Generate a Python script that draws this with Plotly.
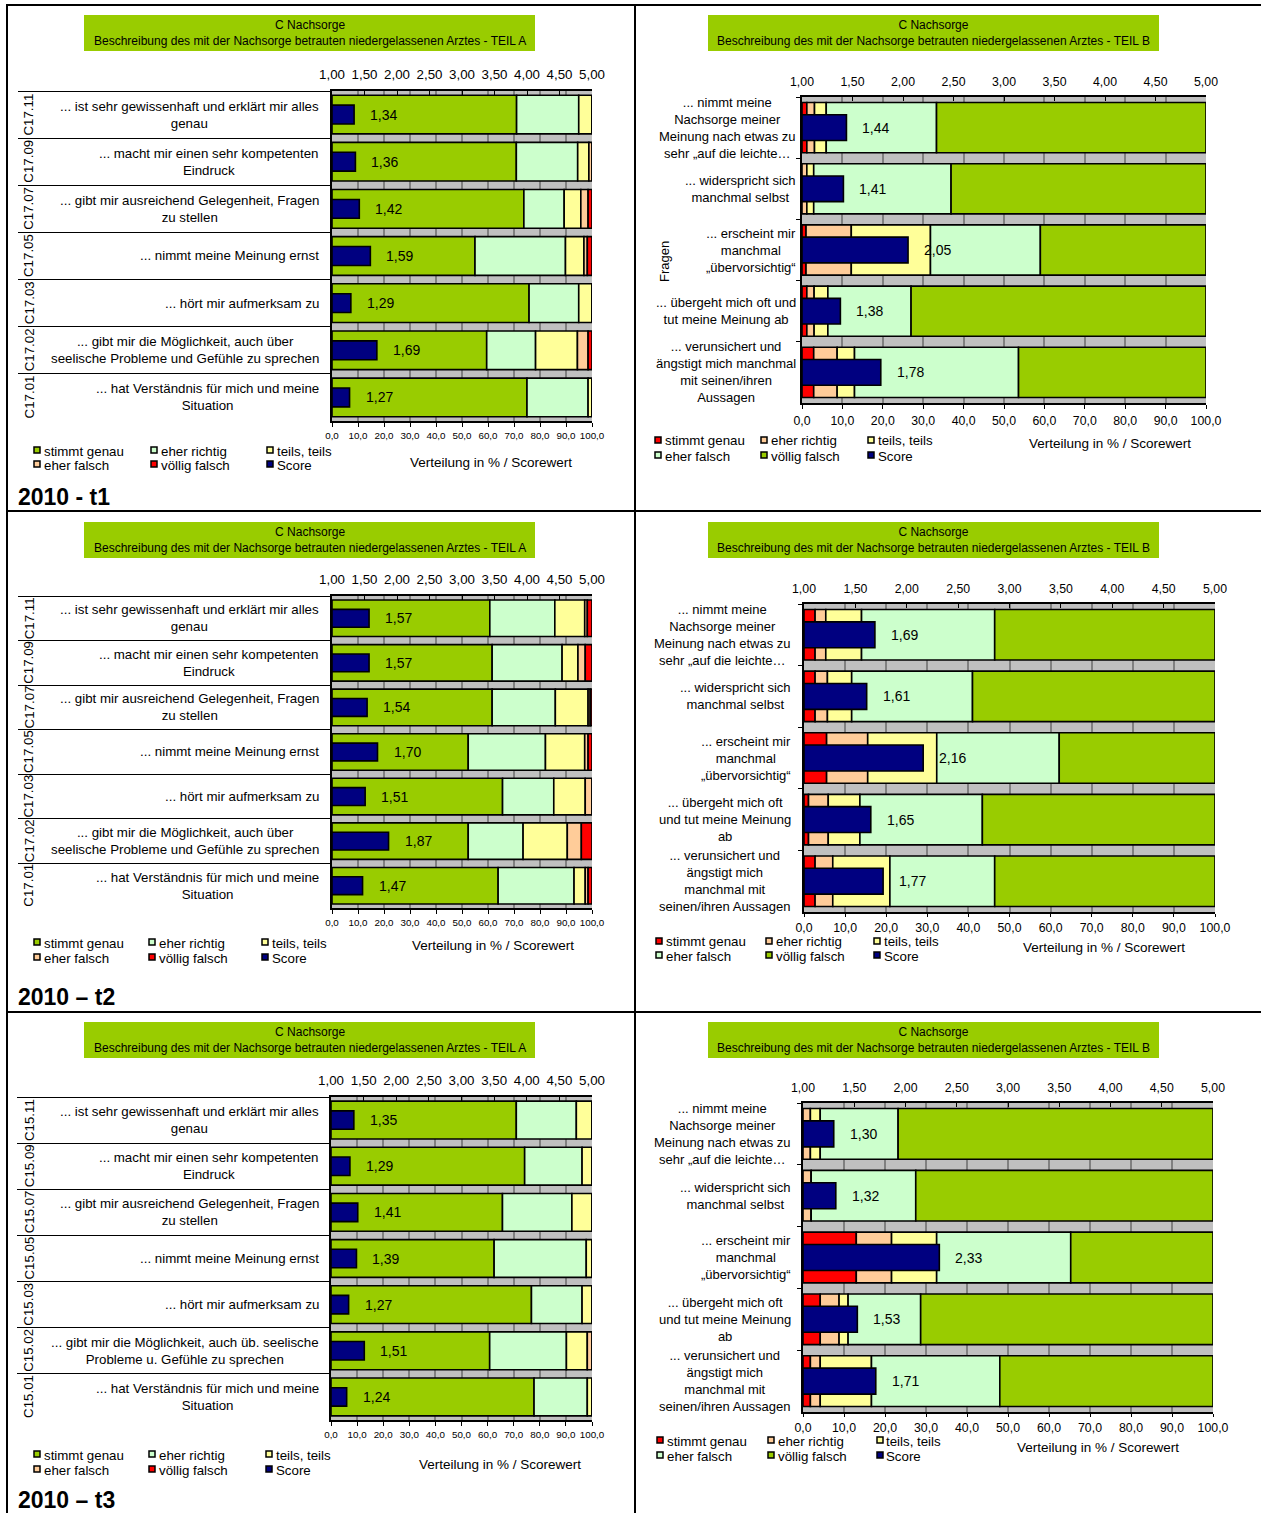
import numpy as np
import plotly.graph_objects as go

W, H = 1261, 1513
FONT = "Arial, Liberation Sans, sans-serif"

# ---------------------------------------------------------------- data
LEVELS = ["stimmt genau", "eher richtig", "teils, teils", "eher falsch", "völlig falsch"]

CODES_T1 = ["C17.11", "C17.09", "C17.07", "C17.05", "C17.03", "C17.02", "C17.01"]
CODES_T2 = ["C17.11", "C17.09", "C17.07", "C17.05", "C17.03", "C17.02", "C17.01"]
CODES_T3 = ["C15.11", "C15.09", "C15.07", "C15.05", "C15.03", "C15.02", "C15.01"]

ITEMS_A = [
    "... ist sehr gewissenhaft und erklärt mir alles<br>genau",
    "... macht mir einen sehr kompetenten<br>Eindruck",
    "... gibt mir ausreichend Gelegenheit, Fragen<br>zu stellen",
    "... nimmt meine Meinung ernst",
    "... hört mir aufmerksam zu",
    "... gibt mir die Möglichkeit, auch über<br>seelische Probleme und Gefühle zu sprechen",
    "... hat Verständnis für mich und meine<br>Situation",
]
ITEMS_A_T3 = [
    "... ist sehr gewissenhaft und erklärt mir alles<br>genau",
    "... macht mir einen sehr kompetenten<br>Eindruck",
    "... gibt mir ausreichend Gelegenheit, Fragen<br>zu stellen",
    "... nimmt meine Meinung ernst",
    "... hört mir aufmerksam zu",
    "... gibt mir die Möglichkeit, auch üb. seelische<br>Probleme u. Gefühle zu sprechen",
    "... hat Verständnis für mich und meine<br>Situation",
]
ITEMS_B_T1 = [
    "... nimmt meine<br>Nachsorge meiner<br>Meinung nach etwas zu<br>sehr „auf die leichte…",
    "... widerspricht sich<br>manchmal selbst",
    "... erscheint mir<br>manchmal<br>„übervorsichtig“",
    "... übergeht mich oft und<br>tut meine Meinung ab",
    "... verunsichert und<br>ängstigt mich manchmal<br>mit seinen/ihren<br>Aussagen",
]
ITEMS_B_T23 = [
    "... nimmt meine<br>Nachsorge meiner<br>Meinung nach etwas zu<br>sehr „auf die leichte…",
    "... widerspricht sich<br>manchmal selbst",
    "... erscheint mir<br>manchmal<br>„übervorsichtig“",
    "... übergeht mich oft<br>und tut meine Meinung<br>ab",
    "... verunsichert und<br>ängstigt mich<br>manchmal mit<br>seinen/ihren Aussagen",
]

# distribution in % per answer level (rows follow LEVELS), one value per item
T1_A_PCT = [
    [71.0, 70.9, 73.8, 55.0, 75.8, 59.5, 75.0],
    [23.9, 23.6, 15.5, 34.8, 19.1, 18.8, 23.5],
    [5.1, 4.3, 6.4, 7.1, 5.1, 16.1, 1.5],
    [0.0, 1.2, 2.8, 1.3, 0.0, 4.1, 0.0],
    [0.0, 0.0, 1.5, 1.8, 0.0, 1.5, 0.0],
]
T1_A_SCORE = [1.34, 1.36, 1.42, 1.59, 1.29, 1.69, 1.27]

T2_A_PCT = [
    [60.7, 61.6, 61.6, 52.4, 65.6, 52.4, 63.9],
    [25.0, 26.9, 24.3, 29.7, 19.7, 21.1, 29.2],
    [11.5, 6.1, 12.6, 15.1, 12.1, 17.0, 4.3],
    [1.0, 2.8, 0.8, 1.3, 2.6, 5.4, 1.1],
    [1.8, 2.6, 0.7, 1.5, 0.0, 4.1, 1.5],
]
T2_A_SCORE = [1.57, 1.57, 1.54, 1.70, 1.51, 1.87, 1.47]

T3_A_PCT = [
    [71.0, 74.2, 65.7, 62.5, 76.8, 60.8, 77.8],
    [23.0, 22.0, 26.6, 35.3, 19.4, 29.4, 20.4],
    [6.0, 3.8, 7.7, 2.2, 3.8, 8.0, 1.8],
    [0.0, 0.0, 0.0, 0.0, 0.0, 1.8, 0.0],
    [0.0, 0.0, 0.0, 0.0, 0.0, 0.0, 0.0],
]
T3_A_SCORE = [1.35, 1.29, 1.41, 1.39, 1.27, 1.51, 1.24]

T1_B_PCT = [
    [1.2, 0.0, 1.0, 1.2, 2.9],
    [1.9, 1.2, 11.2, 1.8, 5.8],
    [2.9, 1.7, 19.6, 3.4, 4.3],
    [27.3, 34.0, 27.2, 20.6, 40.6],
    [66.7, 63.1, 41.0, 73.0, 46.4],
]
T1_B_SCORE = [1.44, 1.41, 2.05, 1.38, 1.78]

T2_B_PCT = [
    [2.7, 2.7, 5.5, 1.1, 2.7],
    [2.6, 3.0, 10.0, 4.8, 4.3],
    [8.7, 5.9, 16.8, 7.7, 13.9],
    [32.4, 29.4, 29.8, 29.8, 25.5],
    [53.6, 59.0, 37.9, 56.6, 53.6],
]
T2_B_SCORE = [1.69, 1.61, 2.16, 1.65, 1.77]

T3_B_PCT = [
    [0.0, 0.0, 13.0, 4.2, 1.8],
    [1.8, 2.0, 8.6, 4.6, 2.4],
    [2.4, 0.0, 11.0, 2.2, 12.5],
    [19.0, 25.5, 32.7, 17.7, 31.3],
    [76.8, 72.5, 34.7, 71.3, 52.0],
]
T3_B_SCORE = [1.30, 1.32, 2.33, 1.53, 1.71]

# ---------------------------------------------------------------- styling
COLORS_A = ["#99CC00", "#CCFFCC", "#FFFF99", "#FFCC99", "#FF0000"]
COLORS_B = ["#FF0000", "#FFCC99", "#FFFF99", "#CCFFCC", "#99CC00"]
SCORE_COLOR = "#000080"
TITLE_BG = "#99CC00"


def fx(p):
    return p / W


def fy(p):
    return 1 - p / H


def fmt_de(v, nd=2):
    return f"{v:.{nd}f}".replace(".", ",")


fig = go.Figure()
layout_axes = {}
shapes = []
annotations = []


def ax_name(kind, i):
    return kind if i == 1 else f"{kind}{i}"


def add_panel(k, cats, pct, scores, colors, g, labels=None, codes=None):
    ib, it = 2 * k - 1, 2 * k
    xb, xt, ya = ax_name("x", ib), ax_name("x", it), ax_name("y", k)
    n = len(cats)

    # stacked distribution bars (bottom axis, 0-100 %)
    base = np.zeros(n)
    for lvl, vals, col in zip(LEVELS, pct, colors):
        v = np.asarray(vals, dtype=float)
        fig.add_trace(go.Bar(
            y=cats, x=v, base=base.copy(), orientation="h", width=g["bw"],
            marker=dict(color=col, line=dict(color="black", width=1.6)),
            xaxis=xb, yaxis=ya, name=lvl, showlegend=False,
        ))
        base = base + v

    # score bars (top axis, 1-5) starting at the scale minimum
    s = np.asarray(scores, dtype=float)
    fig.add_trace(go.Bar(
        y=cats, x=s - 1, base=np.ones(n), orientation="h", width=g["sw"],
        marker=dict(color=SCORE_COLOR, line=dict(color="black", width=1.6)),
        xaxis=xt, yaxis=ya, name="Score", showlegend=False,
    ))
    for c, v in zip(cats, s):
        annotations.append(dict(
            x=v, y=c, xref=xt, yref=ya, text=fmt_de(v), showarrow=False,
            xanchor="left", yanchor="middle", xshift=14,
            font=dict(family=FONT, size=14, color="black"),
        ))

    axis_line = dict(showline=True, linecolor="black", linewidth=1.5,
                     zeroline=False, automargin=False)
    layout_axes[ax_name("xaxis", ib)] = dict(
        domain=[fx(g["xl"]), fx(g["xr"])], anchor=ya, range=[0, 100],
        tick0=0, dtick=10, tickformat=".1f", ticks="outside", ticklen=g["blen"],
        tickcolor="black", tickwidth=1, showgrid=True, gridcolor="#808080",
        gridwidth=1.5, tickfont=dict(family=FONT, size=g["fb"], color="black"),
        ticklabelstandoff=g["sb"], **axis_line,
    )
    layout_axes[ax_name("xaxis", it)] = dict(
        overlaying=xb, anchor=ya, side="top", range=[1, 5], tick0=1, dtick=0.5,
        tickformat=".2f", ticks="inside", ticklen=4, tickcolor="black",
        showgrid=False, tickfont=dict(family=FONT, size=g["ft"], color="black"),
        ticklabelstandoff=g["st"], **axis_line,
    )
    layout_axes[ax_name("yaxis", k)] = dict(
        domain=[fy(g["yb"]), fy(g["yt"])], anchor=xb, type="category",
        categoryorder="array", categoryarray=cats, range=[n - 0.5, -0.5],
        showticklabels=False, ticks="outside", tickson="boundaries",
        ticklen=g["tl"], tickcolor="black", tickwidth=1.3, showgrid=False,
        **axis_line,
    )

    # question texts
    for c, lab in zip(cats, labels):
        annotations.append(dict(
            x=fx(g["lr"]), y=c, xref="paper", yref=ya, text=lab, showarrow=False,
            xanchor="right", yanchor="middle", align="center",
            font=dict(family=FONT, size=g["fl"], color="black"),
        ))
    if codes is not None:
        for c, code in zip(cats, codes):
            annotations.append(dict(
                x=fx(g["cx"]), y=c, xref="paper", yref=ya, text=code,
                showarrow=False, textangle=-90, xanchor="center", yanchor="middle",
                font=dict(family=FONT, size=13.3, color="black"),
            ))

    # title box
    x0, x1, y0, y1 = g["title"]
    shapes.append(dict(type="rect", xref="paper", yref="paper", x0=fx(x0), x1=fx(x1),
                       y0=fy(y1), y1=fy(y0), fillcolor=TITLE_BG, line=dict(width=0),
                       layer="below"))
    annotations.append(dict(
        x=fx((x0 + x1) / 2), y=fy((y0 + y1) / 2), xref="paper", yref="paper",
        text="C Nachsorge<br>Beschreibung des mit der Nachsorge betrauten "
             "niedergelassenen Arztes - " + g["teil"],
        showarrow=False, xanchor="center", yanchor="middle", align="center",
        font=dict(family=FONT, size=12, color="black"),
    ))

    # legend
    entries = list(zip(LEVELS, colors)) + [("Score", SCORE_COLOR)]
    for idx, (name, col) in enumerate(entries):
        kx = g["lx"][idx % 3]
        ky = g["ly"][idx // 3]
        shapes.append(dict(type="rect", xref="paper", yref="paper",
                           x0=fx(kx), x1=fx(kx + 6), y0=fy(ky + 3), y1=fy(ky - 3),
                           fillcolor=col, line=dict(color="black", width=1.5)))
        annotations.append(dict(
            x=fx(kx + 7.5), y=fy(ky + 1), xref="paper", yref="paper", text=name,
            showarrow=False, xanchor="left", yanchor="middle",
            font=dict(family=FONT, size=13.3, color="black"),
        ))

    ax, ay = g["atitle"]
    annotations.append(dict(
        x=fx(ax), y=fy(ay), xref="paper", yref="paper",
        text="Verteilung in % / Scorewert", showarrow=False,
        xanchor="center", yanchor="middle",
        font=dict(family=FONT, size=13.5, color="black"),
    ))


GEO_A = dict(bw=0.82, sw=0.40, fb=9.8, sb=0, blen=4, ft=13.3, st=5, lr=321, cx=29,
             tl=312, fl=13.3, teil="TEIL A")
GEO_B = dict(bw=0.82, sw=0.42, fb=12.3, sb=1, blen=4, ft=12.3, st=4, tl=4, fl=13,
             teil="TEIL B")

add_panel(1, CODES_T1, T1_A_PCT, T1_A_SCORE, COLORS_A,
          dict(GEO_A, xl=332, xr=592, yt=91, yb=421, title=(84, 535, 15, 51),
               lx=[34, 151, 267], ly=[450, 464], atitle=(491, 462)),
          labels=ITEMS_A, codes=CODES_T1)
add_panel(2, ITEMS_B_T1, T1_B_PCT, T1_B_SCORE, COLORS_B,
          dict(GEO_B, xl=802, xr=1206, yt=97, yb=403, lr=798, title=(708, 1159, 15, 51),
               lx=[655, 761, 868], ly=[440, 455], atitle=(1110, 443)),
          labels=ITEMS_B_T1)
add_panel(3, CODES_T2, T2_A_PCT, T2_A_SCORE, COLORS_A,
          dict(GEO_A, xl=332, xr=592, yt=596, yb=908, title=(84, 535, 522, 558),
               lx=[34, 149, 262], ly=[942, 957], atitle=(493, 945)),
          labels=ITEMS_A, codes=CODES_T2)
add_panel(4, ITEMS_B_T23, T2_B_PCT, T2_B_SCORE, COLORS_B,
          dict(GEO_B, xl=804, xr=1215, yt=604, yb=912, lr=793, title=(708, 1159, 522, 558),
               lx=[656, 766, 874], ly=[941, 955], atitle=(1104, 947), sb=0, blen=3),
          labels=ITEMS_B_T23)
add_panel(5, CODES_T3, T3_A_PCT, T3_A_SCORE, COLORS_A,
          dict(GEO_A, xl=331, xr=592, yt=1097, yb=1420, title=(84, 535, 1022, 1058),
               lx=[34, 149, 266], ly=[1454, 1469], atitle=(500, 1464)),
          labels=ITEMS_A_T3, codes=CODES_T3)
add_panel(6, ITEMS_B_T23, T3_B_PCT, T3_B_SCORE, COLORS_B,
          dict(GEO_B, xl=803, xr=1213, yt=1103, yb=1412, lr=793, title=(708, 1159, 1022, 1058),
               lx=[657, 768, 877], ly=[1440, 1455], atitle=(1098, 1447), sb=0, blen=3),
          labels=ITEMS_B_T23)

# "Fragen" axis title of the first part-B chart
annotations.append(dict(x=fx(665), y=fy(262), xref="paper", yref="paper", text="Fragen",
                        showarrow=False, textangle=-90, xanchor="center", yanchor="middle",
                        font=dict(family=FONT, size=13, color="black")))

# wave labels
for text, yc in [("2010 - t1", 497), ("2010 – t2", 997), ("2010 – t3", 1500)]:
    annotations.append(dict(x=fx(16), y=fy(yc), xref="paper", yref="paper", text=text,
                            showarrow=False, xanchor="left", yanchor="middle",
                            font=dict(family=FONT, size=23, color="black", weight="bold")))


# table grid lines
def hline(y, x0, x1):
    shapes.append(dict(type="line", xref="paper", yref="paper", x0=fx(x0), x1=fx(x1),
                       y0=fy(y), y1=fy(y), line=dict(color="black", width=2)))


def vline(x, y0, y1):
    shapes.append(dict(type="line", xref="paper", yref="paper", x0=fx(x), x1=fx(x),
                       y0=fy(y0), y1=fy(y1), line=dict(color="black", width=2)))


hline(5, 6, 1261)
hline(511, 6, 1261)
hline(1012, 6, 1261)
vline(7, 4, 1513)
vline(635, 4, 1513)

fig.update_layout(
    width=W, height=H, autosize=False,
    margin=dict(l=0, r=0, t=0, b=0, pad=0, autoexpand=False),
    paper_bgcolor="white", plot_bgcolor="#C0C0C0",
    barmode="overlay", separators=",.", showlegend=False,
    font=dict(family=FONT, color="black"),
    shapes=shapes, annotations=annotations, **layout_axes,
)

fig.write_html("out.html", config={"responsive": False})
